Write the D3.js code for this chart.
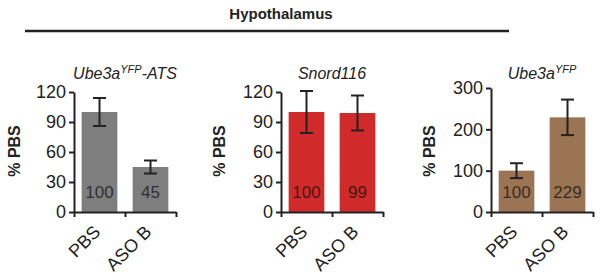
<!DOCTYPE html>
<html>
<head>
<meta charset="utf-8">
<script src="https://cdn.jsdelivr.net/npm/d3@7"></script>
<style>
  body { margin: 0; background: #fff; }
  svg { font-family: "Liberation Sans", Arial, sans-serif; }
</style>
</head>
<body>
<svg id="chart" width="601" height="280"></svg>
<script>
// data
const categories = ["PBS", "ASO B"];
const ats = [100, 45];          // Ube3a-YFP-ATS
const atsErr = [14, 6.5];
const snord = [100, 99];        // Snord116
const snordErr = [21, 17.5];
const ube = [100, 229];         // Ube3a-YFP
const ubeErr = [18, 43];
const ticks120 = [0, 30, 60, 90, 120];
const ticks300 = [0, 100, 200, 300];

const svg = d3.select("#chart");

// header
svg.append("text")
  .attr("x", 281).attr("y", 19)
  .attr("text-anchor", "middle")
  .attr("font-size", "15px").attr("font-weight", "bold")
  .attr("fill", "#222")
  .text("Hypothalamus");
svg.append("line")
  .attr("x1", 25).attr("x2", 509).attr("y1", 31).attr("y2", 31)
  .attr("stroke", "#222").attr("stroke-width", 2.5);

const panels = [
  { vals: ats, errs: atsErr, ticks: ticks120, max: 120, top: 92, x0: 74, lab: 14, color: "#7e7e7e", title: ["Ube3a", "YFP", "-ATS"] },
  { vals: snord, errs: snordErr, ticks: ticks120, max: 120, top: 92, x0: 281, lab: 219, color: "#d02a2a", title: ["Snord116"] },
  { vals: ube, errs: ubeErr, ticks: ticks300, max: 300, top: 88, x0: 491, lab: 429, color: "#9b7453", title: ["Ube3a", "YFP"] }
];

const base = 212, bandW = 51;

panels.forEach(function (p) {
  const g = svg.append("g");
  const y = d3.scaleLinear().domain([0, p.max]).range([base, p.top]);
  const x = d3.scaleBand().domain(categories).range([p.x0, p.x0 + bandW * 2]).paddingInner(0.3).paddingOuter(0.15);
  const xa = d3.scaleLinear().domain([0, 2]).range([p.x0, p.x0 + bandW * 2]);

  // bars
  g.selectAll("rect").data(p.vals).enter().append("rect")
    .attr("x", (d, i) => x(categories[i]))
    .attr("width", x.bandwidth())
    .attr("y", d => y(d))
    .attr("height", d => base - y(d))
    .attr("fill", p.color);

  // value labels
  g.selectAll(".val").data(p.vals).enter().append("text")
    .attr("class", "val")
    .attr("x", (d, i) => x(categories[i]) + x.bandwidth() / 2)
    .attr("y", 198)
    .attr("text-anchor", "middle")
    .attr("font-size", "17px")
    .attr("fill", "#111").attr("fill-opacity", 0.75)
    .text(d => Math.round(d));

  // error bars
  p.vals.forEach(function (d, i) {
    const cx = x(categories[i]) + x.bandwidth() / 2;
    const e = p.errs[i];
    const eg = g.append("g").attr("stroke", "#222").attr("stroke-width", 2);
    eg.append("line").attr("x1", cx).attr("x2", cx).attr("y1", y(d + e)).attr("y2", y(d - e));
    eg.append("line").attr("x1", cx - 6.5).attr("x2", cx + 6.5).attr("y1", y(d + e)).attr("y2", y(d + e));
    eg.append("line").attr("x1", cx - 6.5).attr("x2", cx + 6.5).attr("y1", y(d - e)).attr("y2", y(d - e));
  });

  // y axis
  const ya = g.append("g")
    .attr("transform", "translate(" + p.x0 + ",0)")
    .call(d3.axisLeft(y).tickValues(p.ticks).tickSize(5).tickSizeOuter(0).tickPadding(3));
  ya.selectAll("text").attr("font-size", "18px").attr("fill", "#222").attr("font-family", "Liberation Sans, Arial, sans-serif");

  // x axis (ticks between categories)
  const xg = g.append("g")
    .attr("transform", "translate(0," + base + ")")
    .call(d3.axisBottom(xa).tickValues([0, 1, 2]).tickSize(5).tickSizeOuter(0).tickFormat(""));
  [ya, xg].forEach(function (a) {
    a.select(".domain").attr("stroke", "#222").attr("stroke-width", 2);
    a.selectAll(".tick line").attr("stroke", "#222").attr("stroke-width", 2);
  });

  // category labels, rotated
  g.selectAll(".cat").data(categories).enter().append("text")
    .attr("class", "cat")
    .attr("transform", d => "translate(" + (x(d) + x.bandwidth() / 2 + 2) + "," + (base + 21) + ") rotate(-45)")
    .attr("text-anchor", "end")
    .attr("font-size", "18px")
    .attr("fill", "#222")
    .text(d => d);

  // y label
  g.append("text")
    .attr("transform", "translate(" + (p.lab + 6) + ",151) rotate(-90)")
    .attr("text-anchor", "middle")
    .attr("font-size", "16px").attr("font-weight", "bold")
    .attr("fill", "#222")
    .text("% PBS");

  // gene title, italic with superscript
  const t = g.append("text")
    .attr("x", p.x0 + bandW).attr("y", 79)
    .attr("text-anchor", "middle")
    .attr("font-size", "16px").attr("font-style", "italic")
    .attr("fill", "#222");
  p.title.forEach(function (s, i) {
    const ts = t.append("tspan").text(s);
    if (i == 1) ts.attr("font-size", "11px").attr("dy", -6);
    if (i == 2) ts.attr("dy", 6);
  });
});
</script>
</body>
</html>
